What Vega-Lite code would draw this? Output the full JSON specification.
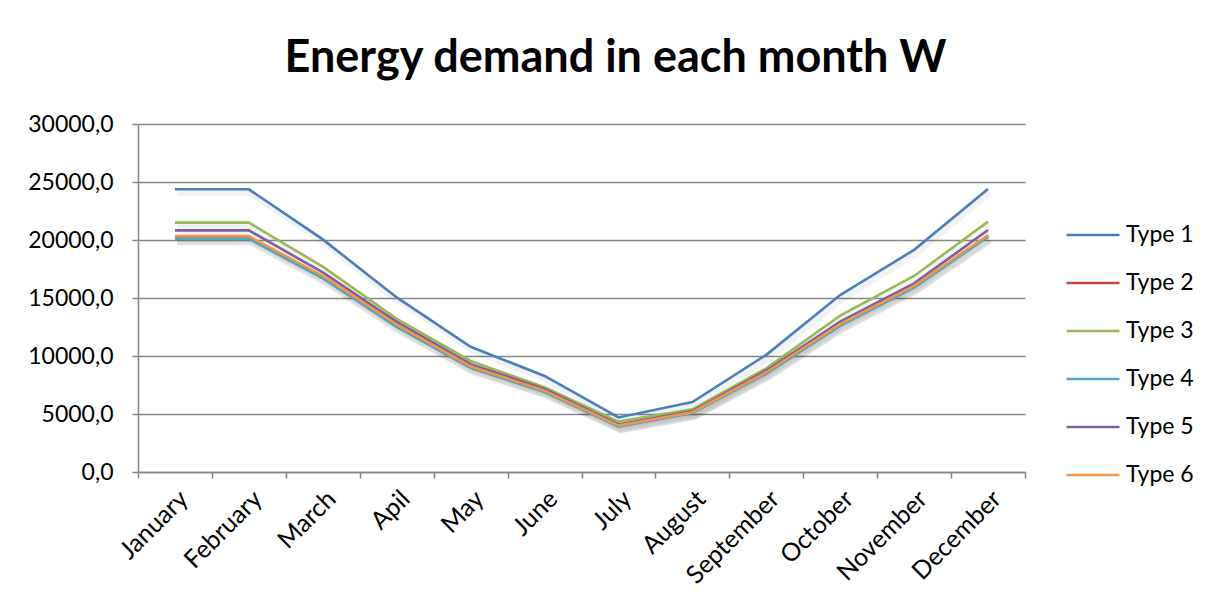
{
  "$schema": "https://vega.github.io/schema/vega-lite/v6.json",
  "width": 887,
  "height": 348,
  "autosize": {"type": "none"},
  "padding": {"left": 138, "top": 124, "right": 191, "bottom": 133},
  "background": "white",
  "title": {
    "text": "Energy demand in each month W",
    "font": "Lato",
    "fontSize": 45,
    "fontWeight": "bold",
    "color": "black",
    "anchor": "middle",
    "frame": "group",
    "dx": 34,
    "offset": 32
  },
  "data": {
    "values": [
      {"month": "January", "type": "Type 1", "value": 24370},
      {"month": "February", "type": "Type 1", "value": 24370},
      {"month": "March", "type": "Type 1", "value": 20050},
      {"month": "Apil", "type": "Type 1", "value": 15050},
      {"month": "May", "type": "Type 1", "value": 10800},
      {"month": "June", "type": "Type 1", "value": 8280},
      {"month": "July", "type": "Type 1", "value": 4700},
      {"month": "August", "type": "Type 1", "value": 6030},
      {"month": "September", "type": "Type 1", "value": 10100},
      {"month": "October", "type": "Type 1", "value": 15250},
      {"month": "November", "type": "Type 1", "value": 19150},
      {"month": "December", "type": "Type 1", "value": 24400},

      {"month": "January", "type": "Type 2", "value": 20150},
      {"month": "February", "type": "Type 2", "value": 20150},
      {"month": "March", "type": "Type 2", "value": 16750},
      {"month": "Apil", "type": "Type 2", "value": 12550},
      {"month": "May", "type": "Type 2", "value": 9000},
      {"month": "June", "type": "Type 2", "value": 6950},
      {"month": "July", "type": "Type 2", "value": 3950},
      {"month": "August", "type": "Type 2", "value": 5100},
      {"month": "September", "type": "Type 2", "value": 8500},
      {"month": "October", "type": "Type 2", "value": 12650},
      {"month": "November", "type": "Type 2", "value": 15950},
      {"month": "December", "type": "Type 2", "value": 20330},

      {"month": "January", "type": "Type 3", "value": 21500},
      {"month": "February", "type": "Type 3", "value": 21500},
      {"month": "March", "type": "Type 3", "value": 17700},
      {"month": "Apil", "type": "Type 3", "value": 13200},
      {"month": "May", "type": "Type 3", "value": 9570},
      {"month": "June", "type": "Type 3", "value": 7300},
      {"month": "July", "type": "Type 3", "value": 4340},
      {"month": "August", "type": "Type 3", "value": 5400},
      {"month": "September", "type": "Type 3", "value": 8940},
      {"month": "October", "type": "Type 3", "value": 13480},
      {"month": "November", "type": "Type 3", "value": 16900},
      {"month": "December", "type": "Type 3", "value": 21580},

      {"month": "January", "type": "Type 4", "value": 20100},
      {"month": "February", "type": "Type 4", "value": 20100},
      {"month": "March", "type": "Type 4", "value": 16700},
      {"month": "Apil", "type": "Type 4", "value": 12500},
      {"month": "May", "type": "Type 4", "value": 8980},
      {"month": "June", "type": "Type 4", "value": 6900},
      {"month": "July", "type": "Type 4", "value": 3920},
      {"month": "August", "type": "Type 4", "value": 5080},
      {"month": "September", "type": "Type 4", "value": 8480},
      {"month": "October", "type": "Type 4", "value": 12600},
      {"month": "November", "type": "Type 4", "value": 15900},
      {"month": "December", "type": "Type 4", "value": 20280},

      {"month": "January", "type": "Type 5", "value": 20830},
      {"month": "February", "type": "Type 5", "value": 20830},
      {"month": "March", "type": "Type 5", "value": 17200},
      {"month": "Apil", "type": "Type 5", "value": 12950},
      {"month": "May", "type": "Type 5", "value": 9300},
      {"month": "June", "type": "Type 5", "value": 7150},
      {"month": "July", "type": "Type 5", "value": 4100},
      {"month": "August", "type": "Type 5", "value": 5250},
      {"month": "September", "type": "Type 5", "value": 8750},
      {"month": "October", "type": "Type 5", "value": 12960},
      {"month": "November", "type": "Type 5", "value": 16260},
      {"month": "December", "type": "Type 5", "value": 20860},

      {"month": "January", "type": "Type 6", "value": 20330},
      {"month": "February", "type": "Type 6", "value": 20330},
      {"month": "March", "type": "Type 6", "value": 16900},
      {"month": "Apil", "type": "Type 6", "value": 12700},
      {"month": "May", "type": "Type 6", "value": 9100},
      {"month": "June", "type": "Type 6", "value": 7000},
      {"month": "July", "type": "Type 6", "value": 4000},
      {"month": "August", "type": "Type 6", "value": 5150},
      {"month": "September", "type": "Type 6", "value": 8600},
      {"month": "October", "type": "Type 6", "value": 12750},
      {"month": "November", "type": "Type 6", "value": 16050},
      {"month": "December", "type": "Type 6", "value": 20430}
    ]
  },
  "encoding": {
    "x": {
      "field": "month",
      "type": "nominal",
      "sort": ["January", "February", "March", "Apil", "May", "June", "July", "August", "September", "October", "November", "December"],
      "scale": {"type": "band", "paddingInner": 0, "paddingOuter": 0},
      "axis": {
        "title": null,
        "labelAngle": -45,
        "labelFontSize": 25,
        "tickBand": "extent",
        "tickSize": 6,
        "labelPadding": 8,
        "grid": false
      }
    },
    "y": {
      "field": "value",
      "type": "quantitative",
      "scale": {"domain": [0, 30000], "nice": false},
      "axis": {
        "title": null,
        "values": [0, 5000, 10000, 15000, 20000, 25000, 30000],
        "labelExpr": "replace(format(datum.value, '.1f'), '.', ',')",
        "labelFontSize": 23,
        "tickSize": 6,
        "labelPadding": 19,
        "grid": true
      }
    }
  },
  "layer": [
    {
      "mark": {"type": "line", "stroke": "#000000", "strokeWidth": 6, "opacity": 0.05, "xOffset": 2, "yOffset": 4},
      "encoding": {"detail": {"field": "type"}}
    },
    {
      "mark": {"type": "line", "strokeWidth": 2.6},
      "encoding": {
        "color": {
          "field": "type",
          "type": "nominal",
          "scale": {
            "domain": ["Type 1", "Type 2", "Type 3", "Type 4", "Type 5", "Type 6"],
            "range": ["#4A7EBB", "#BE4B48", "#98B954", "#46AAC5", "#7D60A0", "#F69446"]
          },
          "legend": {
            "title": null,
            "orient": "none",
            "legendX": 927,
            "legendY": 83,
            "symbolType": "stroke",
            "symbolSize": 2809,
            "symbolStrokeWidth": 2.6,
            "labelFont": "Lato",
            "labelFontSize": 23,
            "labelColor": "black",
            "labelOffset": 5,
            "rowPadding": 8,
            "padding": 0
          }
        }
      }
    }
  ],
  "config": {
    "view": {"stroke": null},
    "axis": {
      "domainColor": "#868686",
      "domainWidth": 1.5,
      "tickColor": "#868686",
      "tickWidth": 1.5,
      "gridColor": "#868686",
      "gridWidth": 1.5,
      "labelFont": "Lato",
      "labelFontSize": 22,
      "labelColor": "black"
    }
  }
}
